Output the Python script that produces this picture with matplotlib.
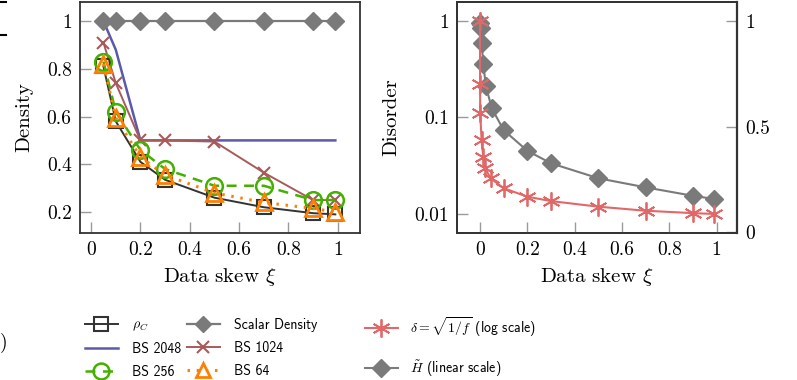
import matplotlib
matplotlib.use("Agg")
import matplotlib.pyplot as plt
from matplotlib.lines import Line2D
from matplotlib.ticker import NullLocator

plt.rcParams['font.family'] = ['cmr10', 'DejaVu Serif']
plt.rcParams['mathtext.fontset'] = 'cm'
plt.rcParams['axes.formatter.use_mathtext'] = True

# ---------------- data: left panel ----------------
skew = [0.05, 0.1, 0.2, 0.3, 0.5, 0.7, 0.9, 0.99]
scalar_density = [1, 1, 1, 1, 1, 1, 1, 1]
rho_c = [0.81, 0.58, 0.41, 0.335, 0.26, 0.22, 0.195, 0.19]
bs2048 = [1.0, 0.88, 0.5, 0.5, 0.5, 0.5, 0.5, 0.5]
bs1024 = [0.91, 0.74, 0.5, 0.5, 0.495, 0.365, 0.25, 0.25]
bs256 = [0.83, 0.62, 0.46, 0.38, 0.31, 0.31, 0.25, 0.25]
bs64 = [0.82, 0.595, 0.43, 0.355, 0.28, 0.24, 0.215, 0.20]
left_xticks = [0, 0.2, 0.4, 0.6, 0.8, 1]
left_xticklabels = ["0", "0.2", "0.4", "0.6", "0.8", "1"]
left_yticks = [0.2, 0.4, 0.6, 0.8, 1]
left_yticklabels = ["0.2", "0.4", "0.6", "0.8", "1"]

# ---------------- data: right panel ----------------
delta_x = [0, 0.0005, 0.001, 0.007, 0.014, 0.021, 0.045, 0.1, 0.2, 0.3, 0.5, 0.7, 0.9, 0.99]
delta = [1.0, 0.22, 0.11, 0.058, 0.039, 0.030, 0.0234, 0.0185, 0.0151, 0.0136, 0.0119, 0.0108, 0.0102, 0.0100]
h_x = [0, 0.003, 0.007, 0.014, 0.025, 0.05, 0.1, 0.2, 0.3, 0.5, 0.7, 0.9, 0.99]
h_tilde = [0.989, 0.965, 0.897, 0.797, 0.692, 0.587, 0.484, 0.386, 0.327, 0.256, 0.213, 0.173, 0.158]
right_yticks = [0.01, 0.1, 1]
right_yticklabels = ["0.01", "0.1", "1"]
twin_yticks = [0, 0.5, 1]
twin_yticklabels = ["0", "0.5", "1"]

# ---------------- styles ----------------
C_BLACK = "#333333"
C_GRAY = "#7a7a7a"
C_BLUE = "#5a5aa8"
C_BROWN = "#a85a5a"
C_GREEN = "#44b000"
C_ORANGE = "#ff8000"
C_RED = "#e06868"
TICK_C = "#9a9a9a"
FS = 14
LFS = 15

fig = plt.figure(figsize=(7.97, 3.80), dpi=100)
W, H = 797, 380

def place(x0, x1, y0, y1):
    return [x0 / W, 1 - y1 / H, (x1 - x0) / W, (y1 - y0) / H]

def style_axes(ax):
    for s in ax.spines.values():
        s.set_color(C_BLACK)
        s.set_linewidth(1.3)
    ax.tick_params(direction='in', length=8, width=1.0, color=TICK_C,
                   labelsize=FS, labelcolor='black', pad=6)

# ---------------- left panel ----------------
ax1 = fig.add_axes(place(80, 360, 2, 233))
ax1.plot(skew, bs2048, color=C_BLUE, lw=1.8, zorder=2, label="BS 2048")
ax1.plot(skew, bs1024, color=C_BROWN, lw=1.4, marker='x', ms=9, mew=1.5, zorder=3, label="BS 1024")
ax1.plot(skew, rho_c, color=C_BLACK, lw=1.4, marker='s', ms=10, mfc='none', mew=1.5, zorder=4, label=r"$\rho_C$")
ax1.plot(skew, bs256, color=C_GREEN, lw=1.8, ls=(0, (4, 3)), marker='o', ms=12, mfc='none', mew=1.8, zorder=5, label="BS 256")
ax1.plot(skew, bs64, color=C_ORANGE, lw=2.2, ls=(0, (0.8, 2.2)), marker='^', ms=11, mfc='none', mew=2.0, zorder=6, label="BS 64")
ax1.plot(skew, scalar_density, color=C_GRAY, lw=1.6, marker='D', ms=9, mfc=C_GRAY, mec=C_GRAY, zorder=7, label="Scalar Density")
ax1.set_xlim(-0.045, 1.09)
ax1.set_ylim(0.112, 1.08)
ax1.set_xticks(left_xticks, left_xticklabels)
ax1.set_yticks(left_yticks, left_yticklabels)
style_axes(ax1)
ax1.set_xlabel(r"Data skew $\xi$", fontsize=LFS, labelpad=5)
ax1.set_ylabel("Density", fontsize=LFS, labelpad=10)

# ---------------- right panel ----------------
ax2 = fig.add_axes(place(457, 737, 2, 233))
ax2.set_yscale('log')
ax2.plot(delta_x, delta, color=C_RED, lw=1.5, marker=(6, 2, 0), ms=13, mew=1.3, zorder=3,
         label=r"$\delta = \sqrt{1/f}$ (log scale)")
ax2.set_xlim(-0.097, 1.086)
ax2.set_ylim(0.00635, 1.57)
ax2.set_xticks(left_xticks, left_xticklabels)
ax2.set_yticks(right_yticks, right_yticklabels)
ax2.yaxis.set_minor_locator(NullLocator())
style_axes(ax2)
ax2.tick_params(axis='y', right=False)
ax2.set_xlabel(r"Data skew $\xi$", fontsize=LFS, labelpad=5)
ax2.set_ylabel("Disorder", fontsize=LFS, labelpad=10)

ax3 = ax2.twinx()
ax3.plot(h_x, h_tilde, color=C_GRAY, lw=1.5, marker='D', ms=9, mfc=C_GRAY, mec=C_GRAY, zorder=4,
         label=r"$\tilde{H}$ (linear scale)")
ax3.set_ylim(-0.003, 1.09)
ax3.set_yticks(twin_yticks, twin_yticklabels)
style_axes(ax3)
ax3.spines['right'].set_linewidth(1.6)
ax2.set_zorder(ax3.get_zorder() + 1)
ax2.patch.set_visible(False)

# ---------------- legends ----------------
h1, l1 = ax1.get_legend_handles_labels()
order = [r"$\rho_C$", "BS 2048", "BS 256", "Scalar Density", "BS 1024", "BS 64"]
hm = dict(zip(l1, h1))
leg1 = fig.legend([hm[k] for k in order], order, loc='upper left',
                  bbox_to_anchor=(72 / W, 1 - 305 / H), ncol=2, frameon=False,
                  prop={'family': ['cmss10', 'DejaVu Sans'], 'size': 10},
                  handlelength=2.4, handletextpad=1.0, columnspacing=0.4,
                  labelspacing=0.65, markerscale=0.95)

h2, l2 = ax2.get_legend_handles_labels()
h3, l3 = ax3.get_legend_handles_labels()
leg2 = fig.legend(h2 + h3, l2 + l3, loc='upper left',
                  bbox_to_anchor=(352 / W, 1 - 303 / H), ncol=1, frameon=False,
                  prop={'family': ['cmss10', 'DejaVu Sans'], 'size': 10},
                  handlelength=2.4, handletextpad=0.9, labelspacing=1.4)

# ---------------- cropped fragments at the left edge ----------------
fig.add_artist(Line2D([0, 6 / W], [1 - 2 / H, 1 - 2 / H], color='black', lw=1.5))
fig.add_artist(Line2D([0, 6 / W], [1 - 35 / H, 1 - 35 / H], color='black', lw=1.5))
fig.text(0 / W, 1 - 343 / H, ")", fontsize=FS, va='center', ha='left')

fig.savefig("out.png", dpi=100)
